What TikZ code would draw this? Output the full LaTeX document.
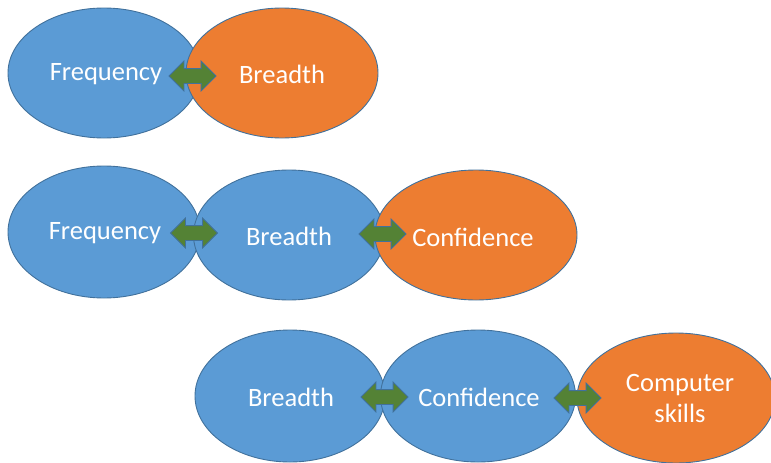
\documentclass[tikz,border=0pt]{standalone}
\usepackage{fontspec}
\setmainfont{Carlito}
\usetikzlibrary{shapes.geometric,shapes.arrows}
\definecolor{bluefill}{HTML}{5B9BD5}
\definecolor{orangefill}{HTML}{ED7D31}
\definecolor{edgeblue}{HTML}{41719C}
\definecolor{arrowgreen}{HTML}{548235}
\tikzset{
  oval/.style={ellipse, draw=edgeblue, line width=0.9pt, inner sep=0pt,
    text=white, font=\fontsize{26}{31}\selectfont, align=center},
  blueoval/.style={oval, fill=bluefill},
  orangeoval/.style={oval, fill=orangefill},
  label text/.style={text=white, font=\fontsize{26.5}{31}\selectfont, align=center},
  linkarrow/.style={double arrow, draw=edgeblue, fill=arrowgreen, line width=0.8pt,
    minimum height=47pt, inner xsep=0pt, inner ysep=7pt,
    double arrow head extend=7.5pt, double arrow head indent=0pt},
}
\begin{document}
\begin{tikzpicture}[x=1pt,y=-1pt]
\useasboundingbox (0,0) rectangle (771,463);
% row 1
\node[blueoval, minimum width=192pt, minimum height=130pt] (f1) at (104,73) {};
\node[orangeoval, minimum width=192pt, minimum height=130pt] (b1) at (282,73) {};
\node[label text] (tf1) at (106,74) {Frequency};
\node[label text] (tb1) at (282,74) {Breadth};
\node[linkarrow] (a1) at (192.5,76) {};
% row 2
\node[blueoval, minimum width=192pt, minimum height=132pt] (f2) at (104,232) {};
\node[blueoval, minimum width=191pt, minimum height=130pt] (b2) at (289,235) {};
\node[orangeoval, minimum width=202pt, minimum height=130pt] (c2) at (476,235) {};
\node[label text] (tf2) at (105,233) {Frequency};
\node[label text] (tb2) at (289,236) {Breadth};
\node[label text] (tc2) at (473,237) {Confidence};
\node[linkarrow] (a2) at (194,233) {};
\node[linkarrow] (a3) at (382.5,234) {};
% row 3
\node[blueoval, minimum width=190pt, minimum height=132pt] (b3) at (290,396) {};
\node[blueoval, minimum width=195pt, minimum height=132pt] (c3) at (478,396) {};
\node[orangeoval, minimum width=198pt, minimum height=130pt] (s3) at (676,398) {};
\node[label text] (tb3) at (291,397) {Breadth};
\node[label text] (tc3) at (479,397) {Confidence};
\node[label text] (ts3) at (680,398) {Computer\\skills};
\node[linkarrow] (a4) at (384.5,397) {};
\node[linkarrow] (a5) at (577.5,398) {};
\end{tikzpicture}
\end{document}
